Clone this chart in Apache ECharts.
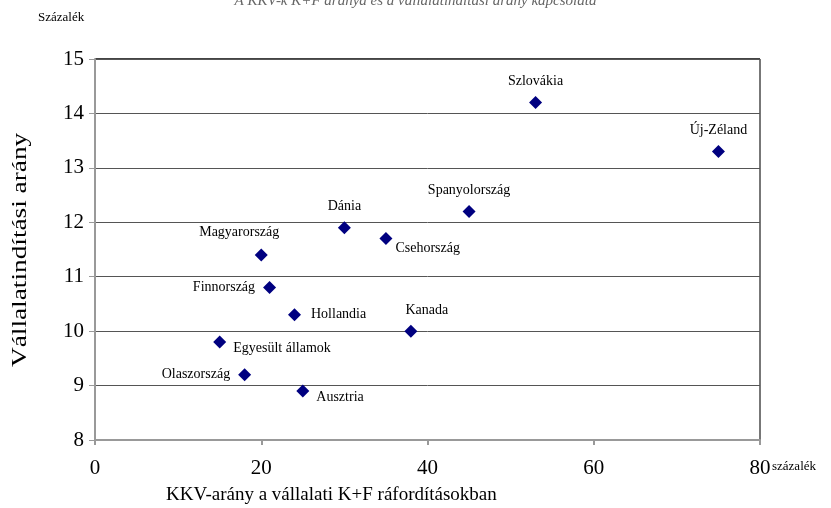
<!DOCTYPE html>
<html><head><meta charset="utf-8">
<script src="https://cdn.jsdelivr.net/npm/echarts@6/dist/echarts.min.js"></script>
<style>html,body{margin:0;padding:0;background:#fff}#c{width:831px;height:508px}</style>
</head><body><div id="c"></div>
<script>
var countries = ['Szlovákia','Új-Zéland','Spanyolország','Dánia','Csehország','Magyarország','Finnország','Hollandia','Kanada','Egyesült államok','Olaszország','Ausztria'];
var smeShare = [53, 75, 45, 30, 35, 20, 21, 24, 38, 15, 18, 25];
var startupRate = [14.2, 13.3, 12.2, 11.9, 11.7, 11.4, 10.8, 10.3, 10.0, 9.8, 9.2, 8.9];
var labelPos = ['top','top','top','top','br','tl','left','right','tr','rb','left','rb'];
var xTicks = [0, 20, 40, 60, 80];
var yTicks = [8, 9, 10, 11, 12, 13, 14, 15];

var font = '"Liberation Serif","Times New Roman",serif';
function lab(p){
  var o = {show:true, formatter:'{b}', color:'#000', fontFamily:font, fontSize:14};
  if(p==='top'){o.position='top'; o.distance=8;}
  else if(p==='left'){o.position='left'; o.distance=8;}
  else if(p==='right'){o.position='right'; o.distance=10;}
  else if(p==='br'){o.position='right'; o.offset=[-2,10];}
  else if(p==='rb'){o.position='right'; o.offset=[2,6];}
  else if(p==='tl'){o.position='top'; o.offset=[-22,-4];}
  else if(p==='tr'){o.position='top'; o.offset=[16,-2];}
  return o;
}
var data = countries.map(function(n,i){
  return {name:n, value:[smeShare[i], startupRate[i]], label:lab(labelPos[i])};
});
var chart = echarts.init(document.getElementById('c'));
chart.setOption({
  animation:false,
  backgroundColor:'#fff',
  title:{text:'A KKV-k K+F aránya és a vállalatindítási arány kapcsolata', left:'center', top:-11,
    textStyle:{fontFamily:font, fontStyle:'italic', fontWeight:'normal', fontSize:15, color:'#666'}},
  grid:{left:95, right:71, top:59, bottom:68},
  xAxis:{type:'value', min:0, max:80, interval:20,
    axisLine:{show:true, lineStyle:{color:'#999', width:2}},
    axisTick:{show:true, length:5, lineStyle:{color:'#999', width:2}},
    axisLabel:{margin:18, fontFamily:font, fontSize:21, color:'#000',
      formatter:function(v){return xTicks.indexOf(v)>=0?String(v):'';}},
    splitLine:{show:false}},
  yAxis:{type:'value', min:8, max:15, interval:1,
    axisLine:{show:true, lineStyle:{color:'#999', width:2}},
    axisTick:{show:true, length:6, lineStyle:{color:'#999', width:1}},
    axisLabel:{margin:11, fontFamily:font, fontSize:21, color:'#000',
      formatter:function(v){return yTicks.indexOf(v)>=0?String(v):'';}},
    splitLine:{show:true, lineStyle:{color:'#555', width:1}}},
  graphic:[
    {type:'line', shape:{x1:95,y1:59,x2:760,y2:59}, style:{stroke:'#444', lineWidth:2}},
    {type:'line', shape:{x1:760,y1:59,x2:760,y2:441}, style:{stroke:'#777', lineWidth:2}},
    {type:'text', left:38, top:11, style:{text:'Százalék', font:'13px '+font, fill:'#000'}},
    {type:'text', left:772, top:460, style:{text:'százalék', font:'13px '+font, fill:'#000'}},
    {type:'text', x:166, y:486, style:{text:'KKV-arány a vállalati K+F ráfordításokban', font:'19px '+font, fill:'#000'}},
    {type:'text', x:10, y:367, rotation:Math.PI/2, scaleX:1.3,
      style:{text:'Vállalatindítási arány', font:'21px '+font, fill:'#000'}}
  ],
  series:[{type:'scatter', symbol:'diamond', symbolSize:13,
    itemStyle:{color:'#000080', opacity:1}, data:data}]
});
</script></body></html>
